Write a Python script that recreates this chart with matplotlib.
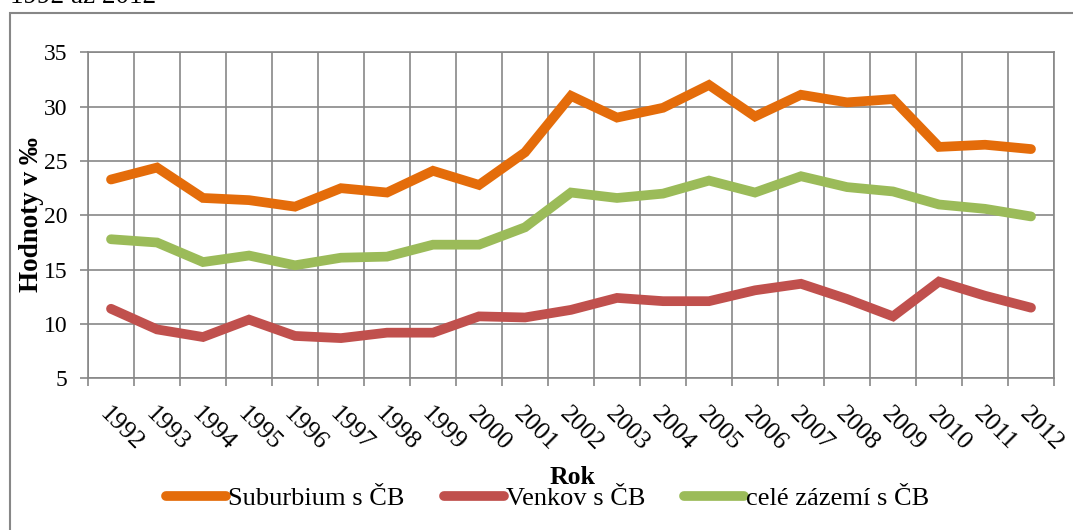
import numpy as np
import matplotlib
matplotlib.use("Agg")
import matplotlib.pyplot as plt
from matplotlib.patches import Rectangle
from matplotlib.ticker import MultipleLocator, FixedLocator

plt.rcParams["font.family"] = ["Liberation Serif", "DejaVu Serif"]

# Data
roky = [str(r) for r in range(1992, 2013)]
suburbium = [23.3, 24.4, 21.6, 21.4, 20.8, 22.5, 22.1, 24.1, 22.8, 25.8, 31.0,
             29.0, 29.9, 32.0, 29.1, 31.1, 30.4, 30.7, 26.3, 26.5, 26.1]
venkov = [11.4, 9.5, 8.8, 10.4, 8.9, 8.7, 9.2, 9.2, 10.7, 10.6, 11.3,
          12.4, 12.1, 12.1, 13.1, 13.7, 12.3, 10.7, 13.9, 12.6, 11.5]
zazemi = [17.8, 17.5, 15.7, 16.3, 15.4, 16.1, 16.2, 17.3, 17.3, 18.9, 22.1,
          21.6, 22.0, 23.2, 22.1, 23.6, 22.6, 22.2, 21.0, 20.6, 19.9]
nazvy = ["Suburbium s ČB", "Venkov s ČB", "celé zázemí s ČB"]
barvy = ["#E46C0A", "#C0504D", "#9BBB59"]

W, H = 1073, 530
fig = plt.figure(figsize=(W / 100, H / 100), dpi=100)
ax = fig.add_axes([88 / W, 1 - 378.3 / H, (1054 - 88) / W, (378.3 - 52.4) / H])

seda = "#878787"
x = np.arange(len(roky))
for data, nazev, barva in zip([suburbium, venkov, zazemi], nazvy, barvy):
    ax.plot(x, data, color=barva, lw=7, label=nazev,
            solid_capstyle="round", solid_joinstyle="miter")

ax.set_xlim(-0.5, len(roky) - 0.5)
ax.set_ylim(5, 35)
ax.yaxis.set_major_locator(MultipleLocator(5))
ax.set_xticks(x)
ax.set_xticklabels(roky, rotation=-45, ha="left", va="top", rotation_mode="anchor")
ax.xaxis.set_minor_locator(FixedLocator(np.arange(-0.5, len(roky), 1)))
ax.tick_params(axis="x", which="major", length=0, pad=18, labelsize=18.5)
ax.tick_params(axis="x", which="minor", length=6, width=1.2, color=seda, direction="out")
ax.tick_params(axis="y", length=6, width=1.2, color=seda, pad=9, labelsize=17)
ax.grid(True, axis="y", which="major", color=seda, lw=1.2)
ax.grid(True, axis="x", which="minor", color=seda, lw=1.2)
ax.grid(False, axis="x", which="major")
for s in ax.spines.values():
    s.set_color(seda)
    s.set_linewidth(1.2)

fig.text(32 / W, 1 - 215 / H, "Hodnoty v ‰", rotation=90, fontsize=19.5,
         fontweight="bold", ha="center", va="center")
fig.text(572 / W, 1 - 477 / H, "Rok", fontsize=18.5, fontweight="bold",
         ha="center", va="center")
fig.text(10 / W, 1 - 3 / H, "1992 až 2012", fontsize=19.5, ha="left", va="baseline")

fig.legend(loc="center", bbox_to_anchor=(548 / W, 1 - 498 / H), ncol=3,
           frameon=False, fontsize=19, handlelength=2.27, handletextpad=0.08,
           columnspacing=1.48, borderpad=0)

fig.patches.append(Rectangle((10 / W, -0.1), 1.2, 1 - 13 / H + 0.1,
                             transform=fig.transFigure, fill=False,
                             edgecolor=seda, lw=1.5))

fig.savefig("out.png", dpi=100)
